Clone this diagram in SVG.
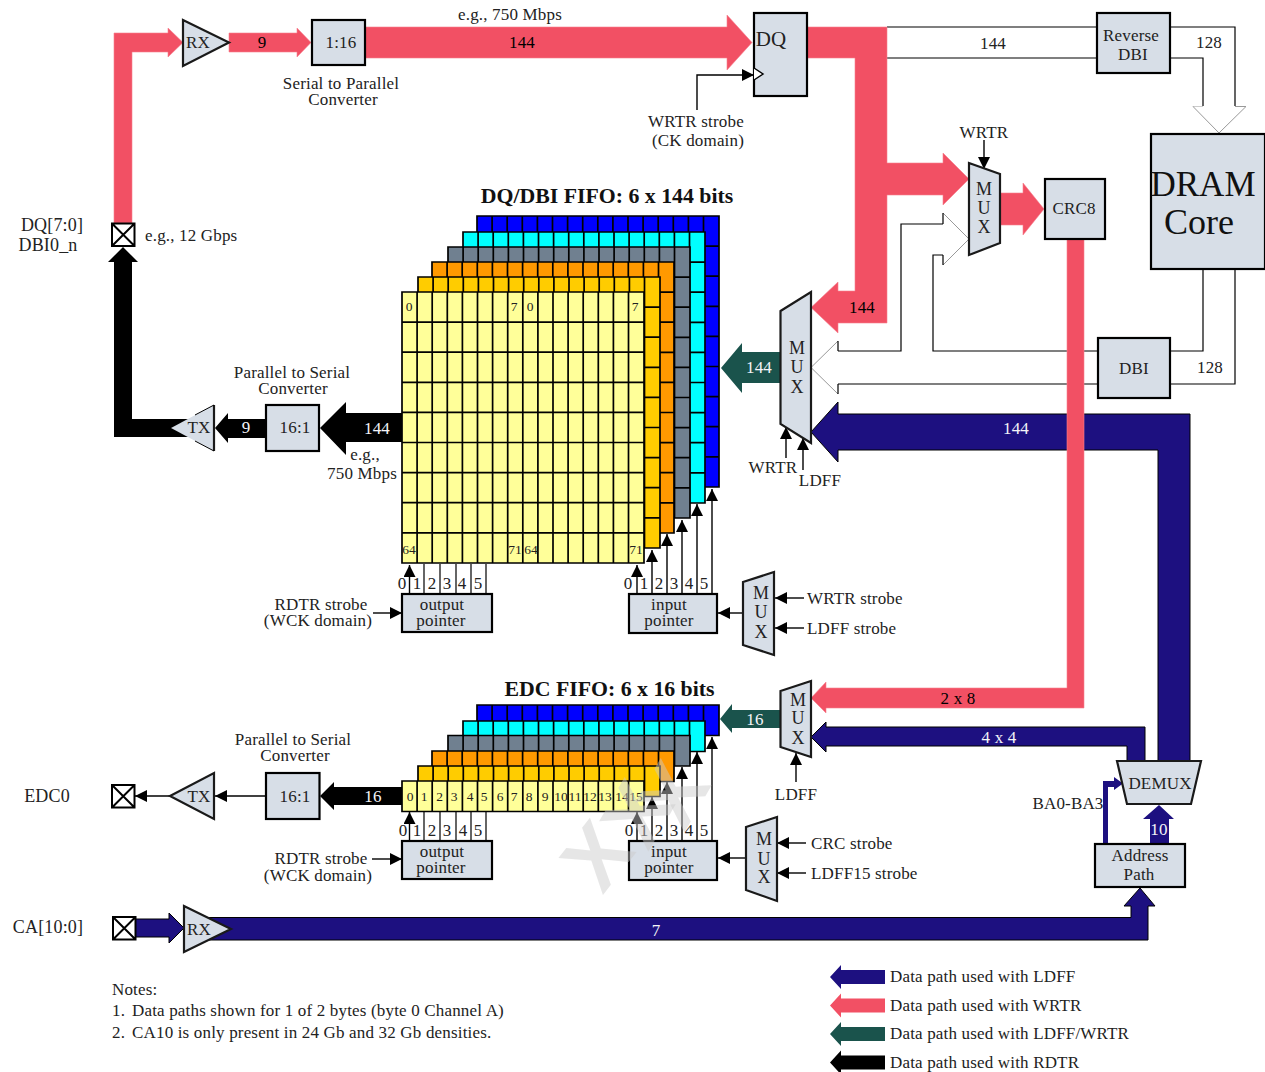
<svg xmlns="http://www.w3.org/2000/svg" width="1265" height="1072" viewBox="0 0 1265 1072">
<style>
text{font-family:"Liberation Serif","Times New Roman",serif;font-size:17px;letter-spacing:.17px;fill:#222}
.c{text-anchor:middle}
.w{fill:#f4f4f8}
.k{fill:#000}
.s{font-size:13.5px;letter-spacing:0}
.p{font-size:17px}
.pin{font-size:18px}
.m{font-size:18px;letter-spacing:0}
.ti{font-size:21.800px;font-weight:bold;letter-spacing:0;fill:#111}
.big{font-size:35px;letter-spacing:0;fill:#111}
.box{fill:#d7dee7;stroke:#000;stroke-width:2.2}
.mx{fill:#d7dee7;stroke:#1a1a1a;stroke-width:2.2}
.red{fill:#f25064;stroke:#f7808f;stroke-width:.6}
.navy{fill:#1d1080;stroke:#000;stroke-width:1}
.green{fill:#1a534c}
.blk{fill:#000}
.th{fill:none;stroke:#000;stroke-width:1.2}
.ar{fill:none;stroke:#000;stroke-width:1.4;marker-end:url(#ah)}
.hd{fill:#fff;stroke:#999;stroke-width:1}
.cell{stroke:#000;stroke-width:1.7}
.pad{fill:#fff;stroke:#000;stroke-width:2}
.wm{font-family:"Liberation Sans",sans-serif;font-size:84px;font-weight:bold;letter-spacing:0;fill:#cacaca;fill-opacity:.47;text-anchor:middle}
</style>
<defs>
<marker id="ah" markerUnits="userSpaceOnUse" markerWidth="12" markerHeight="12" viewBox="0 0 12 12" refX="12" refY="6" orient="auto"><path d="M0 0L12 6L0 12Z" fill="#000"/></marker>
<path id="g9" d="M0 0H242V271H0ZM15.1 0V271M30.2 0V271M45.3 0V271M60.4 0V271M75.5 0V271M90.6 0V271M105.7 0V271M120.8 0V271M135.9 0V271M151 0V271M166.1 0V271M181.2 0V271M196.3 0V271M211.4 0V271M226.5 0V271M0 30.1H242M0 60.2H242M0 90.3H242M0 120.4H242M0 150.5H242M0 180.6H242M0 210.7H242M0 240.8H242"/>
<path id="g1" d="M0 0H242V30.5H0ZM15.1 0V30.5M30.2 0V30.5M45.3 0V30.5M60.4 0V30.5M75.5 0V30.5M90.6 0V30.5M105.7 0V30.5M120.8 0V30.5M135.9 0V30.5M151 0V30.5M166.1 0V30.5M181.2 0V30.5M196.3 0V30.5M211.4 0V30.5M226.5 0V30.5"/>
<g id="xpad"><path d="M0 0H22.5V22.5H0ZM0 0L22.5 22.5M22.5 0L0 22.5" class="pad"/></g>
<path id="lega" d="M0 0L11 -12V-7H55V7H11V12Z"/>
</defs>

<g id="connectors">
<path class="th" d="M887 27H1097M887 58H1097M1170 27H1235V106M1170 58H1203V106M838 351H901V224H943M838 384H1098M943 255H933V351H1098M1170 351H1203V269M1170 384H1235V269"/>
<path class="hd" d="M1193 106.500H1203"/>
<path class="hd" d="M1235 106.500H1246L1219 133L1193 106.500"/>
<path class="hd" d="M943 213L969 239L943 265"/>
<path class="th" d="M943 213V224M943 255V265"/>
<path class="hd" d="M838 341L811 367.500L838 394"/>
<path class="th" d="M838 341V351M838 384V394"/>
<path class="blk" d="M132 262V419H200V437H114V262H108L123 247L138 262Z"/>
<path class="blk" d="M266 419V438H228V443L215 428L228 413V419Z"/>
<path class="blk" d="M402 413V442H346V455L320 428L346 402V413Z"/>
<path class="blk" d="M402 787V805H334V810L320 796L334 782V787Z"/>
<path class="red" d="M114 223V33H168V28L183 42.500L168 57V52H132V223Z"/>
<path class="red" d="M229 33H297V28L311 42.500L297 57V52H229Z"/>
<path class="red" d="M365 27H727V15L752 42.500L727 70V58H365Z"/>
<path class="red" d="M807 27H887V163H943V153L969 179L943 205V195H887V323H838V333L811 307.500L838 282V291H855V58H807Z"/>
<path class="red" d="M1000 193H1023V183L1044 209L1023 235V225H1000Z"/>
<path class="green" d="M780 352V383H742V393L721 368L742 343V352Z"/>
<path class="green" d="M781 710V728H732V733L720 719L732 704V710Z"/>
<path class="navy" d="M1158 761V450H838V462L811 432L838 402V414H1190V761Z"/>
<path class="navy" d="M1127 761V746H826V752L811 737L826 722V727H1145V761Z"/>
<path class="navy" d="M135 919H169V913L184 928L169 943V937H135Z"/>
<path class="navy" d="M200 917.500H1131V906H1124L1140 888L1155 906H1148V940H200Z"/>
<path class="navy" style="stroke:none" d="M1150 844V819H1143L1159 805L1174 819H1169V844Z"/>
<path class="navy" style="stroke:none" d="M1103 844V781H1114V777L1123 783.500L1114 790V787H1108V844Z"/>
<path class="red" d="M1067 239H1084V708H826V713L811 698L826 682V688H1067Z"/>
<path class="ar" d="M697 110V75H754"/>
<path class="ar" d="M984 140V169"/>
<path class="ar" d="M786 458V427"/>
<path class="ar" d="M803 470V438"/>
<path class="ar" d="M796 782V753"/>
<path class="ar" d="M373 613H402"/>
<path class="ar" d="M372 859H402"/>
<path class="ar" d="M744 613H718"/>
<path class="ar" d="M746 858H718"/>
<path class="ar" d="M804 598H775"/>
<path class="ar" d="M804 628H775"/>
<path class="ar" d="M806 843H777"/>
<path class="ar" d="M806 873H777"/>
<path class="ar" d="M170 796H135"/>
<path class="ar" d="M266 796H215"/>
<path class="th" d="M424 594V564M440 594V564M456 594V564M471 594V564M486 594V564"/>
<path class="th" d="M424 840V811M440 840V811M456 840V811M471 840V811M486 840V811"/>
<path class="ar" d="M409.500 594V565"/><path class="ar" d="M637 594V565"/><path class="ar" d="M652 594V550"/><path class="ar" d="M667 594V534"/><path class="ar" d="M682 594V520"/><path class="ar" d="M697 594V504"/><path class="ar" d="M712 594V489"/>
<path class="ar" d="M409.500 840V812"/><path class="ar" d="M637 840V812"/><path class="ar" d="M652 840V797"/><path class="ar" d="M667 840V782"/><path class="ar" d="M682 840V767"/><path class="ar" d="M697 840V752"/><path class="ar" d="M712 840V737"/>
</g>

<g id="fifo-dq">
<use href="#g9" x="477" y="216" class="cell" fill="#0000ff"/>
<use href="#g9" x="463" y="232" class="cell" fill="#00ffff"/>
<use href="#g9" x="448" y="247" class="cell" fill="#708090"/>
<use href="#g9" x="432" y="262" class="cell" fill="#ff9900"/>
<use href="#g9" x="418" y="277" class="cell" fill="#ffcc00"/>
<use href="#g9" x="402" y="292" class="cell" fill="#ffff99"/>
<text class="s c" x="409" y="311">0</text><text class="s c" x="514" y="311">7</text><text class="s c" x="530" y="311">0</text><text class="s c" x="635" y="311">7</text>
<text class="s c" x="409" y="554">64</text><text class="s c" x="515" y="554">71</text><text class="s c" x="531" y="554">64</text><text class="s c" x="636" y="554">71</text>
<text class="ti c" x="607" y="203">DQ/DBI FIFO: 6 x 144 bits</text>
</g>
<g id="fifo-edc">
<use href="#g1" x="477" y="705" class="cell" fill="#0000ff"/>
<use href="#g1" x="463" y="721" class="cell" fill="#00ffff"/>
<use href="#g1" x="448" y="735.500" class="cell" fill="#708090"/>
<use href="#g1" x="432" y="751" class="cell" fill="#ff9900"/>
<use href="#g1" x="418" y="766" class="cell" fill="#ffcc00"/>
<use href="#g1" x="402" y="781" class="cell" fill="#ffff99"/>
<text class="s c" x="410" y="801">0</text><text class="s c" x="424" y="801">1</text><text class="s c" x="439.500" y="801">2</text><text class="s c" x="454" y="801">3</text><text class="s c" x="470" y="801">4</text><text class="s c" x="484" y="801">5</text><text class="s c" x="500" y="801">6</text><text class="s c" x="514" y="801">7</text><text class="s c" x="529" y="801">8</text><text class="s c" x="545" y="801">9</text><text class="s c" x="561" y="801">10</text><text class="s c" x="575" y="801">11</text><text class="s c" x="590" y="801">12</text><text class="s c" x="605" y="801">13</text><text class="s c" x="622" y="801">14</text><text class="s c" x="636" y="801">15</text>
<text class="ti c" x="609.500" y="696">EDC FIFO: 6 x 16 bits</text>
</g>

<g id="pad-dq"><use href="#xpad" x="112" y="223.500"/><text x="52" y="231" class="c pin">DQ[7:0]</text><text x="48" y="251" class="c pin">DBI0_n</text></g>
<g id="pad-edc"><use href="#xpad" x="112" y="785"/><text x="47" y="802" class="c pin">EDC0</text></g>
<g id="pad-ca"><use href="#xpad" x="113" y="917"/><text x="48" y="933" class="c pin">CA[10:0]</text></g>

<g id="rx-dq"><path class="mx" d="M183 20V66L229 42.500Z"/><text x="198" y="48" class="c">RX</text></g>
<g id="ser-par"><rect class="box" x="312" y="20" width="53" height="45"/><text x="341" y="48" class="c">1:16</text></g>
<g id="dq"><rect class="box" x="754" y="13" width="53" height="83"/><path d="M754 68L763 74L754 80" fill="#fff" stroke="#000" stroke-width="1.500"/><text x="771" y="46" style="font-size:21px" class="c">DQ</text></g>
<g id="rev-dbi"><rect class="box" x="1097" y="13" width="73" height="60"/><text x="1131" y="41" class="c">Reverse</text><text x="1133" y="60" class="c">DBI</text></g>
<g id="dram"><rect class="box" x="1151" y="134" width="114" height="135"/><text x="1203" y="196" class="big c">DRAM</text><text x="1199" y="234" class="big c" style="font-size:36px">Core</text></g>
<g id="mux-crc"><path class="mx" d="M969 163L1000 174V243L969 255Z"/><text class="m c" x="984" y="195">M</text><text class="m c" x="984" y="214">U</text><text class="m c" x="984" y="233">X</text></g>
<g id="crc8"><rect class="box" x="1045" y="179" width="60" height="60"/><text x="1074" y="214" class="c">CRC8</text></g>
<g id="mux-dq"><path class="mx" d="M780.500 311L811 292V443L780.500 424Z"/><text class="m c" x="797" y="354">M</text><text class="m c" x="797" y="373">U</text><text class="m c" x="797" y="393">X</text></g>
<g id="dbi"><rect class="box" x="1098" y="338" width="72" height="60"/><text x="1134" y="374" class="c">DBI</text></g>
<g id="tx-dq"><path class="mx" style="stroke:none" d="M171 428L214 405V451Z"/><path class="mx" style="fill:none" d="M214 405V451"/><path fill="none" stroke="#000" stroke-width="1" d="M214 405L195 415M214 451L195 441"/><text x="199" y="433" class="c">TX</text></g>
<g id="par-ser"><rect class="box" x="266" y="405" width="53" height="46"/><text x="295" y="433" class="c">16:1</text></g>
<g id="out-ptr"><rect class="box" x="402" y="594" width="90" height="38"/><text x="442" y="610" class="c">output</text><text x="441" y="626" class="c">pointer</text></g>
<g id="in-ptr"><rect class="box" x="629" y="594" width="88" height="39"/><text x="669" y="610" class="c">input</text><text x="669" y="626" class="c">pointer</text></g>
<g id="mux-in"><path class="mx" d="M743 582L774 572V655L743 645Z"/><text class="m c" x="761" y="599">M</text><text class="m c" x="761" y="618">U</text><text class="m c" x="761" y="638">X</text></g>
<g id="mux-edc"><path class="mx" d="M780.500 691L811 681V757L780.500 747Z"/><text class="m c" x="798" y="706">M</text><text class="m c" x="798" y="724">U</text><text class="m c" x="798" y="744">X</text></g>
<g id="tx-edc"><path class="mx" d="M170 796L214 773V819Z"/><text x="199" y="802" class="c">TX</text></g>
<g id="par-ser-edc"><rect class="box" x="266" y="773" width="53.500" height="46"/><text x="295" y="802" class="c">16:1</text></g>
<g id="out-ptr-edc"><rect class="box" x="402" y="841" width="90" height="38"/><text x="442" y="857" class="c">output</text><text x="441" y="873" class="c">pointer</text></g>
<g id="in-ptr-edc"><rect class="box" x="629" y="841" width="88" height="39"/><text x="669" y="857" class="c">input</text><text x="669" y="873" class="c">pointer</text></g>
<g id="mux-in-edc"><path class="mx" d="M746 827L777 817V901L746 890Z"/><text class="m c" x="764" y="845">M</text><text class="m c" x="764" y="865">U</text><text class="m c" x="764" y="883">X</text></g>
<g id="demux"><path class="mx" d="M1117 761H1201L1191 804H1127Z"/><text x="1160" y="789" class="c">DEMUX</text></g>
<g id="addr"><rect class="box" x="1095" y="844" width="90" height="43"/><text x="1140" y="861" class="c">Address</text><text x="1139" y="880" class="c">Path</text></g>
<g id="rx-ca"><path class="mx" d="M184 906V952L231 929Z"/><text x="199" y="935" class="c">RX</text></g>

<g id="labels">
<text x="510" y="20" class="c">e.g., 750 Mbps</text>
<text x="522" y="48" class="c k">144</text>
<text x="262" y="48" class="c k">9</text>
<text x="341" y="89" class="c">Serial to Parallel</text><text x="343" y="105" class="c">Converter</text>
<text x="696" y="127" class="c">WRTR strobe</text><text x="698" y="146" class="c">(CK domain)</text>
<text x="984" y="138" class="c">WRTR</text>
<text x="993" y="49" class="c">144</text><text x="1209" y="48" class="c">128</text><text x="1210" y="373" class="c">128</text>
<text x="862" y="313" class="c k">144</text>
<text x="759" y="373" class="c w">144</text>
<text x="1016" y="434" class="c w">144</text>
<text x="773" y="473" class="c">WRTR</text><text x="820" y="486" class="c">LDFF</text>
<text x="145" y="241">e.g., 12 Gbps</text>
<text x="292" y="378" class="c">Parallel to Serial</text><text x="293" y="394" class="c">Converter</text>
<text x="246" y="433" class="c w">9</text><text x="377" y="434" class="c w">144</text>
<text x="365" y="460" class="c">e.g.,</text><text x="362" y="479" class="c">750 Mbps</text>
<text x="321" y="610" class="c">RDTR strobe</text><text x="318" y="626" class="c">(WCK domain)</text>
<text x="293" y="745" class="c">Parallel to Serial</text><text x="295" y="761" class="c">Converter</text>
<text x="373" y="802" class="c w">16</text>
<text x="321" y="864" class="c">RDTR strobe</text><text x="318" y="881" class="c">(WCK domain)</text>
<text x="402" y="589" class="c">0</text><text x="417" y="589" class="c">1</text><text x="432" y="589" class="c">2</text><text x="447" y="589" class="c">3</text><text x="462" y="589" class="c">4</text><text x="478" y="589" class="c">5</text>
<text x="628" y="589" class="c">0</text><text x="644" y="589" class="c">1</text><text x="659" y="589" class="c">2</text><text x="674" y="589" class="c">3</text><text x="689" y="589" class="c">4</text><text x="704" y="589" class="c">5</text>
<text x="403" y="836" class="c">0</text><text x="417" y="836" class="c">1</text><text x="432" y="836" class="c">2</text><text x="447" y="836" class="c">3</text><text x="463" y="836" class="c">4</text><text x="478" y="836" class="c">5</text>
<text x="629" y="836" class="c">0</text><text x="644" y="836" class="c">1</text><text x="659" y="836" class="c">2</text><text x="674" y="836" class="c">3</text><text x="689" y="836" class="c">4</text><text x="704" y="836" class="c">5</text>
<text x="807" y="604">WRTR strobe</text><text x="807" y="634">LDFF strobe</text>
<text x="755" y="725" class="c w">16</text><text x="958" y="704" class="c k">2 x 8</text><text x="999" y="743" class="c w">4 x 4</text>
<text x="796" y="800" class="c">LDFF</text>
<text x="811" y="849">CRC strobe</text><text x="811" y="879">LDFF15 strobe</text>
<text x="1068" y="809" class="c">BA0-BA3</text>
<text x="1159" y="835" class="c w">10</text>
<text x="656" y="936" class="c w">7</text>
<text x="112" y="995">Notes:</text>
<text x="112" y="1016">1.</text><text x="132" y="1016">Data paths shown for 1 of 2 bytes (byte 0 Channel A)</text>
<text x="112" y="1038">2.</text><text x="132" y="1038">CA10 is only present in 24 Gb and 32 Gb densities.</text>
</g>

<g id="legend">
<use href="#lega" transform="translate(830 977)" fill="#1d1080"/><text x="890" y="982">Data path used with LDFF</text>
<use href="#lega" transform="translate(830 1005.500)" fill="#f25064"/><text x="890" y="1011">Data path used with WRTR</text>
<use href="#lega" transform="translate(830 1034)" fill="#1a534c"/><text x="890" y="1039">Data path used with LDFF/WRTR</text>
<use href="#lega" transform="translate(830 1062.500)" fill="#000"/><text x="890" y="1068">Data path used with RDTR</text>
</g>

<g id="watermark">
<text class="wm" x="0" y="30" transform="translate(596 855) rotate(-52)">X</text>
<text class="wm" x="0" y="30" transform="translate(636 813) rotate(-60)">X</text>
<text class="wm" x="0" y="30" transform="translate(672 794) rotate(-60)">X</text>
</g>
</svg>
